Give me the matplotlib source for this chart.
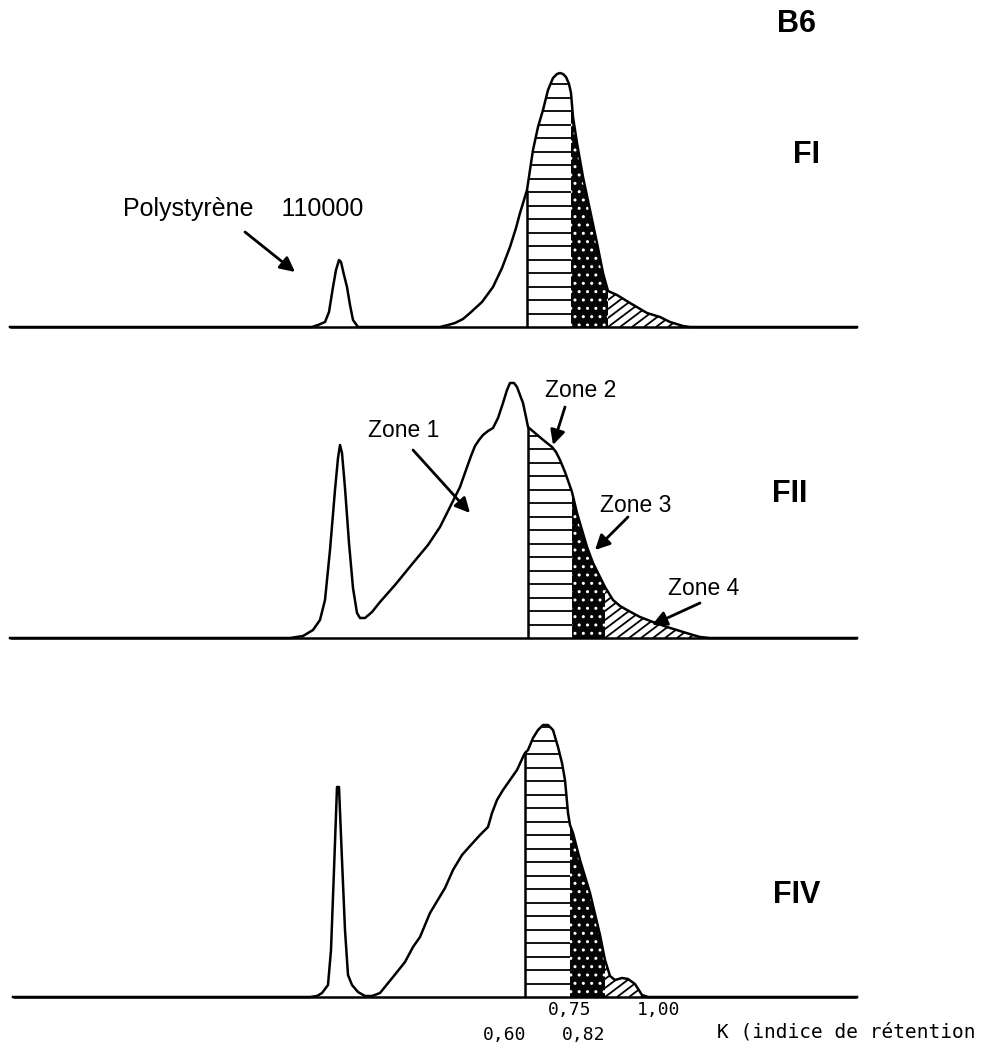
import numpy as np
import matplotlib
matplotlib.use("Agg")
import matplotlib.pyplot as plt
from matplotlib.collections import LineCollection

# chromatogram traces: x position and height of signal above the baseline (px)
fi_x = [10, 300, 312, 318, 325, 329, 333, 336, 339, 341, 344, 347, 350, 353, 358, 365,
        440, 448, 455, 463, 470, 482, 493, 502, 510, 516, 520, 524, 527, 533, 538, 543,
        548, 553, 557, 560, 563, 566, 569, 571, 573, 577, 583, 590, 597, 603, 608, 617,
        630, 647, 660, 670, 683, 690, 857]
fi_h = [0, 0, 0, 2, 5, 15, 40, 57, 67, 65, 52, 40, 22, 7, 0, 0,
        0, 2, 4, 8, 14, 25, 40, 59, 80, 99, 114, 127, 137, 177, 200, 217,
        237, 249, 253, 254, 253, 250, 243, 234, 210, 184, 150, 117, 84, 54, 36, 32,
        24, 14, 10, 5, 1, 0, 0]

fii_x = [10, 290, 303, 313, 320, 325, 330, 335, 338, 340, 342, 345, 349, 353, 357, 360,
         365, 372, 380, 395, 413, 428, 440, 450, 460, 466, 471, 475, 479, 483, 488, 493,
         498, 503, 507, 510, 514, 517, 520, 523, 526, 528, 535, 542, 547, 552, 556, 560,
         565, 572, 577, 582, 587, 593, 600, 605, 613, 620, 627, 640, 653, 667, 680, 693,
         700, 710, 857]
fii_h = [0, 0, 2, 8, 18, 38, 88, 148, 180, 193, 185, 150, 95, 50, 25, 20,
         20, 26, 36, 53, 75, 93, 111, 131, 151, 168, 182, 192, 198, 203, 207, 210,
         220, 235, 248, 255, 255, 251, 243, 235, 221, 211, 205, 199, 195, 191, 186, 178,
         166, 146, 125, 108, 91, 75, 61, 51, 38, 32, 28, 21, 16, 11, 7, 3,
         1, 0, 0]

fiv_x = [13, 310, 317, 322, 328, 331, 334, 337, 339, 342, 345, 348, 352, 358, 365, 372,
         380, 393, 405, 413, 420, 430, 445, 453, 462, 470, 480, 488, 492, 497, 503, 510,
         517, 523, 525, 528, 533, 538, 543, 548, 553, 558, 562, 565, 568, 570, 573, 580,
         590, 600, 605, 610, 615, 622, 628, 635, 642, 648, 857]
fiv_h = [0, 0, 1, 4, 12, 47, 127, 210, 210, 137, 67, 22, 12, 5, 1, 1,
         4, 20, 35, 50, 60, 84, 109, 127, 142, 151, 162, 170, 184, 197, 207, 217,
         227, 240, 244, 247, 259, 267, 272, 272, 267, 250, 234, 217, 184, 172, 164, 137,
         104, 62, 37, 21, 17, 19, 18, 13, 2, 0, 0]

# zone limits (zone 2 start, zone 3 start, zone 4 start, zone 4 end)
fi_zones = [527, 571, 608, 690]
fii_zones = [528, 572, 605, 710]
fiv_zones = [525, 570, 605, 648]

panels = [
    ("FI", fi_x, fi_h, fi_zones, 327),
    ("FII", fii_x, fii_h, fii_zones, 638),
    ("FIV", fiv_x, fiv_h, fiv_zones, 997),
]

k_labels = ["0,75", "1,00", "0,60", "0,82"]

fig = plt.figure(figsize=(9.81, 10.48), dpi=100)
ax = fig.add_axes([0, 0, 1, 1])
ax.set_xlim(0, 981)
ax.set_ylim(1048, 0)
ax.axis("off")
plt.rcParams["hatch.linewidth"] = 1.0

for name, xs, hs, zones, base in panels:
    x = np.array(xs, dtype=float)
    y = base - np.array(hs, dtype=float)
    z2, z3, z4, zend = zones

    # zone 2 : horizontal lines
    m = (x >= z2) & (x <= z3)
    poly = ax.fill_between(x, y, base, where=m, facecolor="white", lw=0, zorder=1)
    top = y[m].min()
    lines = ax.hlines(np.arange(base - 13.5, top, -13.5), z2, z3,
                      colors="black", lw=1.3, zorder=2)
    lines.set_clip_path(poly.get_paths()[0], poly.get_transform())

    # zone 3 : dark stipple
    m = (x >= z3) & (x <= z4)
    ax.fill_between(x, y, base, where=m, facecolor="#050505", edgecolor="white",
                    hatch="..", lw=0, zorder=1)

    # zone 4 : diagonal hatching
    m = (x >= z4) & (x <= zend)
    poly4 = ax.fill_between(x, y, base, where=m, facecolor="white", lw=0, zorder=1)
    segs = [[(c, base), (c + 120, base - 90)] for c in np.arange(z4 - 120, zend, 12)]
    lc = LineCollection(segs, colors="black", lw=1.3, zorder=2)
    ax.add_collection(lc)
    lc.set_clip_path(poly4.get_paths()[0], poly4.get_transform())

    # outline, baseline and zone 2 left edge
    ax.plot(x, y, color="black", lw=1.8, zorder=3, solid_joinstyle="round")
    ax.hlines(base, x[0], x[-1], colors="black", lw=1.8, zorder=3)
    ax.vlines(z2, base, y[list(x).index(z2)], colors="black", lw=1.8, zorder=3)

bold = dict(fontsize=22, fontweight="bold", family="Liberation Sans",
            ha="left", va="baseline")
ax.text(777, 32, "B6", **bold)
ax.text(793, 163, "FI", **bold)
ax.text(772, 502, "FII", **bold)
ax.text(773, 903, "FIV", **bold)

reg = dict(fontsize=16.5, family="Liberation Sans", ha="left", va="baseline")
ax.text(123, 216, "Polystyrène    110000", **dict(reg, fontsize=18))
ax.text(368, 437, "Zone 1", **reg)
ax.text(545, 397, "Zone 2", **reg)
ax.text(600, 512, "Zone 3", **reg)
ax.text(668, 595, "Zone 4", **reg)

arrow = dict(arrowstyle="-|>", color="black", lw=2, mutation_scale=22,
             shrinkA=0, shrinkB=0)
for start, tip in [((245, 232), (295, 272)), ((413, 450), (470, 513)),
                   ((565, 407), (553, 445)), ((628, 517), (595, 550)),
                   ((700, 603), (652, 625))]:
    ax.annotate("", xy=tip, xytext=start, arrowprops=arrow)

mono = dict(fontsize=13, family="DejaVu Sans Mono", ha="left", va="baseline")
for lab, pos in zip(k_labels, [(548, 1015), (637, 1015), (483, 1040), (562, 1040)]):
    ax.text(pos[0], pos[1], lab, **mono)
ax.text(717, 1038, "K (indice de rétention", **dict(mono, fontsize=14))

fig.savefig("out.png", dpi=100)
